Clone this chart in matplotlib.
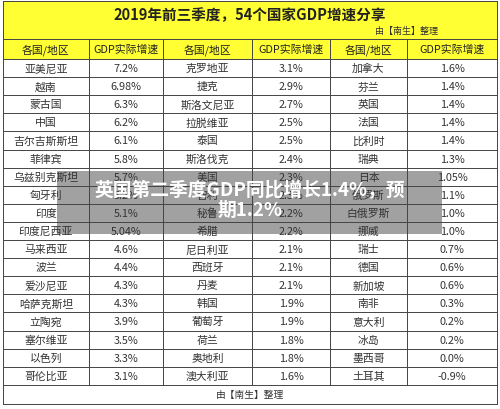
import matplotlib
matplotlib.use("Agg")
import matplotlib.pyplot as plt
from matplotlib.patches import Rectangle

plt.rcParams['font.family'] = ['Noto Sans CJK SC', 'DejaVu Sans']

title = "2019年前三季度，54个国家GDP增速分享"
credit = "由【南生】整理"
headers = ["各国/地区", "GDP实际增速"] * 3
c1 = ["亚美尼亚","越南","蒙古国","中国","吉尔吉斯斯坦","菲律宾","乌兹别克斯坦","匈牙利","印度","印度尼西亚","马来西亚","波兰","爱沙尼亚","哈萨克斯坦","立陶宛","塞尔维亚","以色列","哥伦比亚"]
v1 = ["7.2%","6.98%","6.3%","6.2%","6.1%","5.8%","5.7%","5.2%","5.1%","5.04%","4.6%","4.4%","4.3%","4.3%","3.9%","3.5%","3.3%","3.1%"]
c2 = ["克罗地亚","捷克","斯洛文尼亚","拉脱维亚","泰国","斯洛伐克","美国","智利","秘鲁","希腊","尼日利亚","西班牙","丹麦","韩国","葡萄牙","荷兰","奥地利","澳大利亚"]
v2 = ["3.1%","2.9%","2.7%","2.5%","2.5%","2.4%","2.3%","2.3%","2.2%","2.2%","2.1%","2.1%","2.1%","1.9%","1.9%","1.8%","1.8%","1.6%"]
c3 = ["加拿大","芬兰","英国","法国","比利时","瑞典","日本","俄罗斯","白俄罗斯","挪威","瑞士","德国","新加坡","南非","意大利","冰岛","墨西哥","土耳其"]
v3 = ["1.6%","1.4%","1.4%","1.4%","1.4%","1.3%","1.05%","1.1%","1.0%","1.0%","0.7%","0.6%","0.6%","0.3%","0.2%","0.2%","0.0%","-0.9%"]
overlay = "英国第二季度GDP同比增长1.4%，预\n期1.2%"

cols = [c1, v1, c2, v2, c3, v3]
xb = [3, 89, 163, 252, 330, 407, 497]
top, hh, rh = 40, 20, 18.1
n = len(c1)

fig = plt.figure(figsize=(5, 4.1), dpi=100)
ax = fig.add_axes([0, 0, 1, 1])
ax.set_xlim(0, 500); ax.set_ylim(410, 0); ax.axis('off')

yel = '#FFFF33'
lc = '#444444'
ax.add_patch(Rectangle((xb[0], 2), xb[-1]-xb[0], top+hh-2, facecolor=yel, edgecolor='none'))
ax.text(250, 15, title, ha='center', va='center', fontsize=10.5, fontweight='bold', color='#222222')
ax.text(xb[-1]-90, 31, credit, ha='center', va='center', fontsize=6.5, color='#333333')
for i, h in enumerate(headers):
    ax.text((xb[i]+xb[i+1])/2, top+hh/2, h, ha='center', va='center', fontsize=7.8, fontweight='medium', color='#222222')
y0 = top + hh
for j, col in enumerate(cols):
    for i, s in enumerate(col):
        ax.text((xb[j]+xb[j+1])/2, y0 + rh*(i+0.5), s, ha='center', va='center', fontsize=7.8, color='#333333')
yend = y0 + rh*n
yfoot = yend + 19
ax.text(250, yend + 9.5, credit, ha='center', va='center', fontsize=7, color='#333333')
for y in [2, top, y0] + [y0 + rh*(i+1) for i in range(n)] + [yfoot]:
    ax.plot([xb[0], xb[-1]], [y, y], color=lc, lw=0.7)
for x in xb:
    if x in (xb[0], xb[-1]):
        ax.plot([x, x], [2, yfoot], color=lc, lw=0.7)
    else:
        ax.plot([x, x], [top, yend], color=lc, lw=0.7)
ax.add_patch(Rectangle((57, 172), 385, 63, facecolor='#555555', alpha=0.55, edgecolor='none'))
ax.text(250, 201, overlay, ha='center', va='center', fontsize=13.5, fontweight='bold', color='white', linespacing=1.05)

fig.savefig('out.png', dpi=100, facecolor='white')
